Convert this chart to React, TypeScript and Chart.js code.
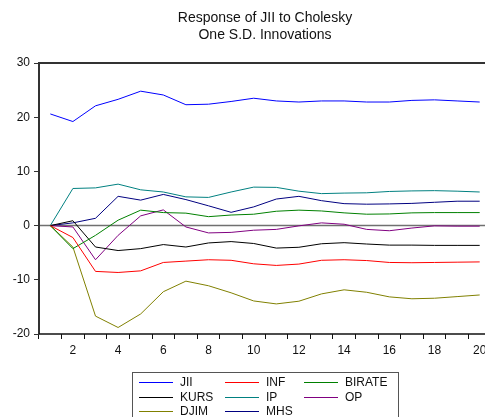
import React, { useEffect, useRef } from "react";
import { Chart, registerables } from "chart.js";

Chart.register(...registerables);

const periods = ["1","2","3","4","5","6","7","8","9","10","11","12","13","14","15","16","17","18","19","20"];
const titleLines = ["Response of JII to Cholesky", "One S.D. Innovations"];
const yTicks = [-20, -10, 0, 10, 20, 30];

const jii = [20.6, 19.2, 22.1, 23.3, 24.8, 24.1, 22.3, 22.4, 22.9, 23.5, 23.0, 22.8, 23.0, 23.0, 22.8, 22.8, 23.1, 23.2, 23.0, 22.8];
const inf = [0, -2.2, -8.45, -8.65, -8.35, -6.8, -6.55, -6.3, -6.4, -7.05, -7.35, -7.1, -6.4, -6.3, -6.45, -6.8, -6.85, -6.8, -6.75, -6.7];
const birate = [0, -4.25, -1.8, 1.0, 2.85, 2.4, 2.3, 1.65, 1.95, 2.1, 2.65, 2.85, 2.7, 2.35, 2.1, 2.15, 2.35, 2.4, 2.4, 2.4];
const kurs = [0, 0.9, -3.95, -4.6, -4.25, -3.5, -3.95, -3.2, -2.95, -3.3, -4.15, -4.0, -3.35, -3.15, -3.4, -3.6, -3.6, -3.65, -3.65, -3.65];
const ip = [0, 6.85, 6.96, 7.65, 6.6, 6.2, 5.3, 5.2, 6.2, 7.1, 7.05, 6.35, 5.9, 6.0, 6.05, 6.3, 6.4, 6.45, 6.35, 6.2];
const op = [0, -0.25, -6.3, -1.8, 1.8, 2.9, -0.25, -1.35, -1.25, -0.85, -0.7, -0.05, 0.5, 0.25, -0.7, -0.95, -0.45, -0.05, -0.1, -0.1];
const djim = [0, -3.95, -16.7, -18.8, -16.3, -12.2, -10.25, -11.1, -12.4, -13.9, -14.45, -13.95, -12.6, -11.85, -12.3, -13.15, -13.5, -13.4, -13.1, -12.8];
const mhs = [0, 0.5, 1.35, 5.4, 4.7, 5.75, 4.8, 3.65, 2.45, 3.45, 4.9, 5.4, 4.6, 4.05, 3.95, 4.0, 4.1, 4.3, 4.5, 4.5];

const seriesNames = ["JII", "INF", "BIRATE", "KURS", "IP", "OP", "DJIM", "MHS"];
const seriesData = [jii, inf, birate, kurs, ip, op, djim, mhs];
const seriesColors = ["#0000FF", "#FF0000", "#008000", "#000000", "#008080", "#800080", "#808000", "#000080"];

const FONT = '"Liberation Sans", Arial, sans-serif';

const decorPlugin = {
  id: "decor",
  beforeDatasetsDraw(chart: any) {
    const { ctx, chartArea, scales } = chart;
    const y0 = scales.y.getPixelForValue(0);
    ctx.save();
    ctx.strokeStyle = "#707070";
    ctx.lineWidth = 1.5;
    ctx.beginPath();
    ctx.moveTo(chartArea.left, y0);
    ctx.lineTo(chartArea.right, y0);
    ctx.stroke();
    ctx.restore();
  },
  afterDraw(chart: any) {
    const { ctx, chartArea } = chart;
    ctx.save();
    // frame
    ctx.strokeStyle = "#333333";
    ctx.lineWidth = 2;
    ctx.beginPath();
    ctx.moveTo(chartArea.left, chartArea.bottom);
    ctx.lineTo(chartArea.left, chartArea.top);
    ctx.lineTo(chartArea.right, chartArea.top);
    ctx.lineTo(chartArea.right, chartArea.bottom);
    ctx.stroke();
    ctx.strokeStyle = "#111111";
    ctx.lineWidth = 1.5;
    ctx.beginPath();
    ctx.moveTo(chartArea.left, chartArea.bottom);
    ctx.lineTo(chartArea.right, chartArea.bottom);
    ctx.stroke();

    // title
    const cx = (chartArea.left + chartArea.right) / 2;
    ctx.fillStyle = "#111111";
    ctx.font = "14px " + FONT;
    ctx.textAlign = "center";
    ctx.textBaseline = "middle";
    ctx.fillText(titleLines[0], cx, 18);
    ctx.fillText(titleLines[1], cx, 35);

    // legend
    const boxL = 132, boxT = 372, boxR = 398, boxB = 430;
    ctx.strokeStyle = "#555555";
    ctx.lineWidth = 1;
    ctx.strokeRect(boxL + 0.5, boxT + 0.5, boxR - boxL, boxB - boxT);
    const colX = [139, 225, 304];
    const rowY = [382, 396.5, 411];
    ctx.font = "12px " + FONT;
    ctx.textAlign = "left";
    ctx.textBaseline = "middle";
    chart.data.datasets.forEach((ds: any, i: number) => {
      const c = i % 3, r = Math.floor(i / 3);
      const x = colX[c], y = rowY[r];
      ctx.strokeStyle = ds.borderColor;
      ctx.lineWidth = 1;
      ctx.beginPath();
      ctx.moveTo(x, Math.round(y) + 0.5);
      ctx.lineTo(x + 34, Math.round(y) + 0.5);
      ctx.stroke();
      ctx.fillStyle = "#111111";
      ctx.fillText(ds.label, x + 41, y + 1);
    });
    ctx.restore();
  },
};

export default function App() {
  const ref = useRef<HTMLCanvasElement | null>(null);
  useEffect(() => {
    document.body.style.margin = "0";
    document.body.style.overflow = "hidden";
    if (!ref.current) return;
    const chart = new Chart(ref.current, {
      type: "line",
      data: {
        labels: periods,
        datasets: seriesNames.map((name, i) => ({
          label: name,
          data: seriesData[i],
          borderColor: seriesColors[i],
          backgroundColor: seriesColors[i],
          borderWidth: 1,
          pointRadius: 0,
          tension: 0,
          fill: false,
        })),
      },
      options: {
        animation: false,
        responsive: false,
        devicePixelRatio: 1,
        layout: { padding: { top: 63, right: 9, left: 0, bottom: 0 } },
        plugins: { legend: { display: false }, title: { display: false }, tooltip: { enabled: false } },
        scales: {
          x: {
            type: "category",
            offset: true,
            afterFit: (s: any) => { s.height = 83; },
            grid: { offset: true, drawOnChartArea: false, drawTicks: true, tickLength: 5, color: "#111111", lineWidth: 1 },
            border: { display: false },
            ticks: {
              autoSkip: false,
              maxRotation: 0,
              padding: 4,
              color: "#111111",
              font: { family: FONT, size: 12 },
              callback: (_v: any, idx: number) => (Number(periods[idx]) % 2 === 0 ? periods[idx] : ""),
            },
          },
          y: {
            min: -20,
            max: 30,
            afterFit: (s: any) => { s.width = 39; },
            afterBuildTicks: (s: any) => { s.ticks = yTicks.map((v) => ({ value: v })); },
            grid: { drawOnChartArea: false, drawTicks: true, tickLength: 5, color: "#333333", lineWidth: 1 },
            border: { display: false },
            ticks: { padding: 4, color: "#111111", font: { family: FONT, size: 12 } },
          },
        },
      },
      plugins: [decorPlugin],
    } as any);
    return () => chart.destroy();
  }, []);
  return (
    <div style={{ position: "fixed", left: 0, top: 0, width: 485, height: 417, overflow: "hidden", background: "#fff" }}>
      <canvas ref={ref} width={500} height={417} style={{ display: "block" }} />
    </div>
  );
}
